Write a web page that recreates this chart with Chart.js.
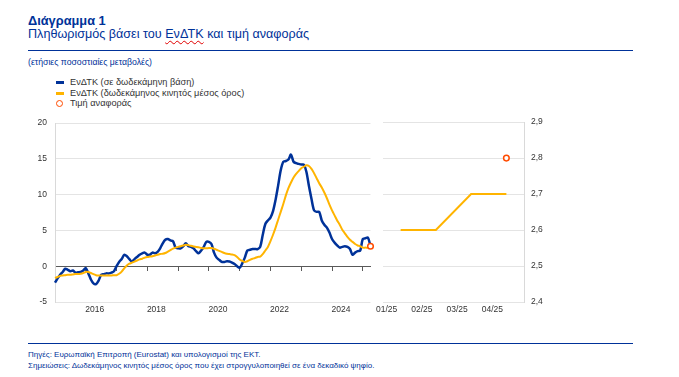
<!DOCTYPE html>
<html lang="el">
<head>
<meta charset="utf-8">
<script src="https://cdn.jsdelivr.net/npm/chart.js@4.4.1/dist/chart.umd.min.js"></script>
<style>
  body { margin: 0; width: 679px; height: 377px; background: #fff; position: relative; overflow: hidden;
         font-family: "Liberation Sans", Arial, sans-serif; color: #003299; }
  .abs { position: absolute; white-space: nowrap; }
  .rule { position: absolute; left: 28px; width: 605px; height: 1.3px; background: #003299; }
  .spell { text-decoration: underline wavy #e00000; text-decoration-thickness: 1px; text-underline-offset: 2px; }
  .leg { position: absolute; left: 56px; font-size: 9.2px; line-height: 10.5px; color: #333; }
  .leg div { position: relative; padding-left: 14px; height: 10.5px; }
  .mk { position: absolute; left: 0; top: 4px; width: 8px; height: 3px; }
  .ring { position: absolute; left: 0; top: 2px; width: 5px; height: 5px; border: 1.5px solid #ff4b00; border-radius: 50%; background: #fff; }
  canvas { position: absolute; }
</style>
</head>
<body>
<div class="abs" style="left:28px; top:15px; font-size:12.8px; line-height:12.8px; font-weight:bold;">Διάγραμμα 1</div>
<div class="abs" style="left:28px; top:28px; font-size:12.6px; line-height:12.6px;">Πληθωρισμός βάσει του <span class="spell">ΕνΔΤΚ</span> και τιμή αναφοράς</div>
<div class="rule" style="top:49.5px;"></div>
<div class="abs" style="left:28px; top:57.5px; font-size:8.7px; line-height:8.7px;">(ετήσιες ποσοστιαίες μεταβολές)</div>

<div class="leg" style="top:77px;">
  <div><span class="mk" style="background:#003299"></span>ΕνΔΤΚ (σε δωδεκάμηνη βάση)</div>
  <div><span class="mk" style="background:#ffb400"></span>ΕνΔΤΚ (δωδεκάμηνος κινητός μέσος όρος)</div>
  <div><span class="ring"></span>Τιμή αναφοράς</div>
</div>

<canvas id="chartLeft" width="362" height="212" style="left:14px; top:110px;"></canvas>
<canvas id="chartRight" width="190" height="212" style="left:368px; top:110px;"></canvas>

<div class="rule" style="top:342.7px;"></div>
<div class="abs" style="left:28px; top:348.5px; font-size:8px; line-height:11px;">
  Πηγές: Ευρωπαϊκή Επιτροπή (Eurostat) και υπολογισμοί της ΕΚΤ.<br>
  Σημειώσεις: Δωδεκάμηνος κινητός μέσος όρος που έχει στρογγυλοποιηθεί σε ένα δεκαδικό ψηφίο.
</div>

<script>
// monthly series, Jan 2015 .. Apr 2025
const startYear = 2015;

const hicpAnnual = [
  -2.3, -1.7, -1.2, -0.8, -0.35, -0.5, -0.7, -0.6, -0.9, -0.85, -0.8, -0.6,
  -0.25, -1.0, -1.85, -2.4, -2.5, -2.0, -1.2, -1.1, -1.0, -1.0, -0.9, -0.7,
  0.0, 0.6, 1.0, 1.6, 1.4, 1.0, 0.65, 1.0, 1.3, 1.6, 1.8, 1.9,
  1.6, 1.6, 1.9, 1.8, 2.0, 2.5, 3.2, 3.7, 3.8, 3.6, 3.5, 2.6,
  2.5, 2.5, 2.8, 3.2, 2.8, 2.7, 2.5, 2.1, 1.8, 2.2, 2.7, 3.4,
  3.4, 3.1, 1.9, 1.2, 0.9, 0.6, 0.6, 0.7, 0.65, 0.5, 0.3, 0.0,
  -0.2, 0.4, 1.2, 2.2, 2.3, 2.4, 2.4, 2.4, 2.7, 4.4, 5.9, 6.4,
  6.8, 7.7, 9.3, 11.3, 13.4, 14.6, 14.7, 14.9, 15.6, 14.6, 14.4, 14.3,
  14.2, 14.2, 13.2, 11.2, 9.4, 7.8, 7.6, 7.6, 6.4, 5.8, 5.4, 4.7,
  3.8, 3.3, 2.9, 2.6, 2.7, 2.8, 2.7, 2.4, 1.6, 1.9, 2.1, 2.2,
  3.8, 3.9, 4.0, 2.8
];

const hicpAvg12 = [
  -1.65, -1.5, -1.35, -1.3, -1.25, -1.2, -1.2, -1.15, -1.1, -1.1, -1.05, -0.95,
  -0.8, -0.8, -0.95, -1.1, -1.25, -1.3, -1.3, -1.3, -1.3, -1.3, -1.3, -1.25,
  -1.25, -1.05, -0.75, -0.3, 0.1, 0.35, 0.5, 0.65, 0.8, 0.95, 1.05, 1.2,
  1.3, 1.35, 1.4, 1.5, 1.6, 1.7, 1.75, 1.85, 2.05, 2.25, 2.45, 2.6,
  2.7, 2.8, 2.9, 3.0, 2.95, 2.85, 2.75, 2.7, 2.65, 2.55, 2.5, 2.5,
  2.55, 2.55, 2.45, 2.3, 2.15, 2.0, 1.85, 1.75, 1.7, 1.65, 1.55, 1.3,
  0.95, 0.75, 0.6, 0.7, 0.9, 1.05, 1.15, 1.3, 1.35, 1.7, 2.2, 2.7,
  3.5, 4.4, 5.4, 6.5, 7.6, 8.7, 9.9, 10.9, 11.7, 12.4, 12.9, 13.3,
  13.7, 13.9, 14.1, 14.0, 13.6, 13.0, 12.3, 11.6, 11.0, 10.3, 9.5, 8.6,
  7.8, 7.1, 6.4, 5.8, 5.1, 4.6, 4.1, 3.7, 3.4, 3.1, 2.9, 2.8,
  2.6, 2.6, 2.6, 2.7
];

const refValueLatest = 2.8;

// year ticks (month index of each January) and labelled years
const janTicks = [12, 24, 36, 48, 60, 72, 84, 96, 108, 120];
const labelTicks = [12, 36, 60, 84, 108];

// right panel: 2025 months
const months2025 = ['01/25', '02/25', '03/25', '04/25'];
const avg12_2025 = [2.6, 2.6, 2.7, 2.7];
const refValue2025 = [null, null, null, 2.8];

const BLUE = '#003299';
const YELLOW = '#ffb400';
const RED = '#ff4b00';
const GRID = '#e4e4e4';

Chart.defaults.font.family = '"Liberation Sans", Arial, sans-serif';
Chart.defaults.font.size = 8.5;
Chart.defaults.color = '#333';

const lastIdx = hicpAnnual.length - 1;
const toXY = arr => arr.map((v, i) => ({ x: i, y: v }));

new Chart(document.getElementById('chartLeft'), {
  type: 'line',
  data: {
    datasets: [
      {
        label: 'Τιμή αναφοράς',
        data: [{ x: lastIdx, y: refValueLatest }],
        showLine: false,
        pointRadius: 2.8,
        pointBorderWidth: 1.5,
        pointBorderColor: RED,
        pointBackgroundColor: '#fff',
        clip: false
      },
      {
        label: 'ΕνΔΤΚ (δωδεκάμηνος κινητός μέσος όρος)',
        data: toXY(hicpAvg12),
        borderColor: YELLOW,
        borderWidth: 2,
        pointRadius: 0,
        tension: 0.3,
        clip: false
      },
      {
        label: 'ΕνΔΤΚ (σε δωδεκάμηνη βάση)',
        data: toXY(hicpAnnual),
        borderColor: BLUE,
        borderWidth: 2.5,
        pointRadius: 0,
        tension: 0.3,
        clip: false
      }
    ]
  },
  options: {
    responsive: false,
    animation: false,
    layout: { padding: { top: 11, right: 4, bottom: 0, left: 0 } },
    plugins: { legend: { display: false }, tooltip: { enabled: false } },
    scales: {
      x: {
        type: 'linear',
        min: 0,
        max: lastIdx,
        afterBuildTicks: s => { s.ticks = labelTicks.map(v => ({ value: v })); },
        afterFit: s => { s.height = 20; },
        grid: { display: false, drawTicks: false },
        border: { display: false },
        ticks: {
          autoSkip: false,
          maxRotation: 0,
          padding: 3,
          labelOffset: 9,
          callback: v => String(startYear + v / 12)
        }
      },
      xt: {
        axis: 'x',
        type: 'linear',
        position: { y: 0 },
        min: 0,
        max: lastIdx,
        afterBuildTicks: s => { s.ticks = janTicks.map(v => ({ value: v })); },
        ticks: { display: false },
        grid: { drawOnChartArea: false, drawTicks: true, tickLength: 4, tickColor: '#595959', lineWidth: 1 },
        border: { display: true, color: '#595959', width: 1 }
      },
      y: {
        min: -5,
        max: 20,
        afterFit: s => { s.width = 41; },
        ticks: { stepSize: 5, padding: 8 },
        grid: {
          drawTicks: false,
          color: c => (c.tick && c.tick.value === 0) ? 'rgba(0,0,0,0)' : GRID
        },
        border: { display: true, color: '#d9d9d9' }
      }
    }
  }
});

new Chart(document.getElementById('chartRight'), {
  type: 'line',
  data: {
    labels: months2025,
    datasets: [
      {
        label: 'Τιμή αναφοράς',
        data: refValue2025,
        showLine: false,
        pointRadius: 2.8,
        pointBorderWidth: 1.5,
        pointBorderColor: RED,
        pointBackgroundColor: '#fff',
        clip: false
      },
      {
        label: 'ΕνΔΤΚ (δωδεκάμηνος κινητός μέσος όρος)',
        data: avg12_2025,
        borderColor: YELLOW,
        borderWidth: 2,
        pointRadius: 0,
        tension: 0
      }
    ]
  },
  options: {
    responsive: false,
    animation: false,
    layout: { padding: { top: 11, right: 4, bottom: 0, left: 15 } },
    plugins: { legend: { display: false }, tooltip: { enabled: false } },
    scales: {
      x: {
        type: 'category',
        offset: true,
        afterFit: s => { s.height = 20; },
        grid: { display: false, drawTicks: false },
        border: { display: false },
        ticks: { autoSkip: false, maxRotation: 0, padding: 3, labelOffset: -14 }
      },
      y: {
        position: 'right',
        min: 2.4,
        max: 2.9,
        afterFit: s => { s.width = 30; },
        ticks: {
          stepSize: 0.1,
          padding: 7,
          callback: v => v.toFixed(1).replace('.', ',')
        },
        grid: { drawTicks: false, color: GRID },
        border: { display: true, color: '#d9d9d9' }
      }
    }
  }
});
</script>
</body>
</html>
